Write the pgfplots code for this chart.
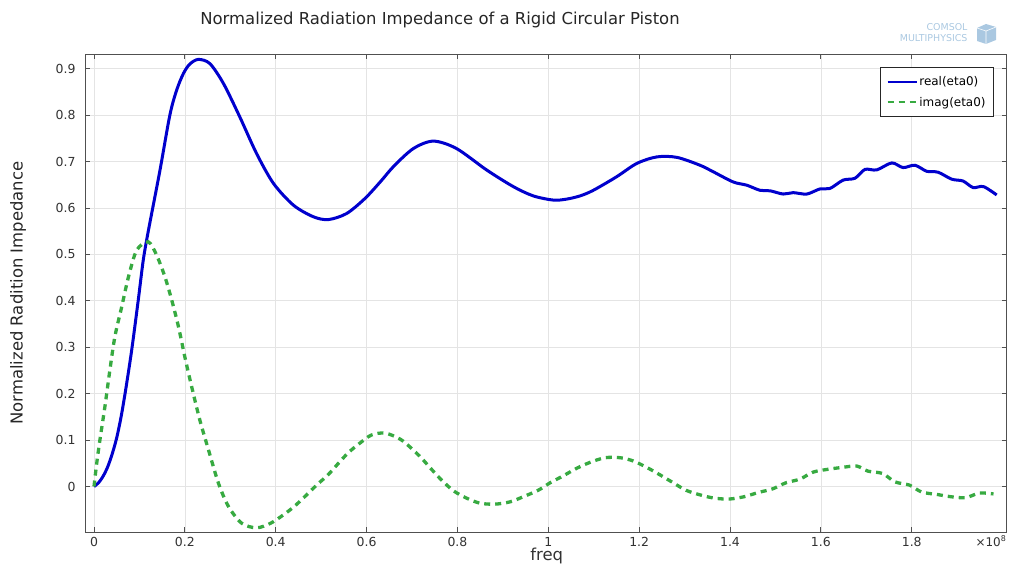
\documentclass[border=0pt]{standalone}
\usepackage{fontspec}
\setmainfont{DejaVu Sans}
\usepackage{pgfplots}
\pgfplotsset{compat=1.18}
\definecolor{realblue}{RGB}{0,0,205}
\definecolor{imaggreen}{RGB}{55,170,65}
\definecolor{gridgray}{RGB}{228,228,228}
\definecolor{axgray}{RGB}{80,80,80}
\definecolor{txtgray}{RGB}{50,50,50}
\definecolor{logoblue}{RGB}{170,200,225}
\begin{document}
\begin{tikzpicture}
\useasboundingbox (0bp,0bp) rectangle (1011bp,570bp);
\begin{axis}[
  at={(85bp,38bp)}, anchor=south west,
  width=921.5bp, height=477.7bp, scale only axis,
  xmin=-0.0198, xmax=2.0086, ymin=-0.098, ymax=0.931,
  xtick={0,0.2,0.4,0.6,0.8,1,1.2,1.4,1.6,1.8},
  xticklabels={0,0.2,0.4,0.6,0.8,1,1.2,1.4,1.6,1.8},
  ytick={0,0.1,0.2,0.3,0.4,0.5,0.6,0.7,0.8,0.9},
  yticklabels={0,0.1,0.2,0.3,0.4,0.5,0.6,0.7,0.8,0.9},
  tick align=inside, major tick length=5bp,
  tick style={axgray, line width=0.8bp},
  axis line style={axgray, line width=0.9bp},
  grid=major, major grid style={gridgray, line width=0.7bp},
  ticklabel style={font=\fontsize{12.5}{14}\selectfont, text=txtgray},
  yticklabel style={xshift=-6bp},
  xticklabel style={yshift=-2bp},
  xlabel={freq},
  xlabel style={at={(axis description cs:0.501,-0.050)}, anchor=center, font=\fontsize{16.5}{18}\selectfont, text=txtgray},
  ylabel={Normalized Radition Impedance},
  ylabel style={at={(axis description cs:-0.0727,0.5)}, anchor=center, rotate=0, font=\fontsize{16.5}{18}\selectfont, text=black!85},
  legend style={at={(0.9864,0.9734)}, anchor=north east, draw=black!85, line width=0.8bp,
    font=\fontsize{12}{14}\selectfont, inner xsep=6bp, inner ysep=7bp, row sep=6bp, fill=white},
  legend cell align=left,
  legend image code/.code={\draw[#1, line width=1.8bp] (0bp,0bp) -- (29bp,0bp);},
]
\addplot[realblue, line width=3bp, smooth, tension=0.5] coordinates {
(0,0) (0.01,0.008) (0.02,0.022) (0.03,0.042) (0.04,0.07) (0.05,0.105)
(0.06,0.152) (0.07,0.21) (0.083,0.294)
(0.0975,0.402) (0.1085,0.488) (0.1195,0.550) (0.145,0.680) (0.167,0.800)
(0.182,0.854) (0.197,0.890) (0.211,0.910) (0.2296,0.920) (0.255,0.911) (0.285,0.868)
(0.321,0.796) (0.358,0.717) (0.395,0.653) (0.439,0.606) (0.483,0.581)
(0.516,0.575) (0.556,0.588) (0.596,0.620) (0.630,0.656) (0.660,0.690)
(0.703,0.728) (0.747,0.744) (0.798,0.728) (0.864,0.682) (0.923,0.646)
(0.967,0.626) (1.011,0.617) (1.040,0.619) (1.070,0.626) (1.099,0.638)
(1.150,0.667) (1.195,0.696) (1.239,0.710) (1.283,0.709) (1.334,0.692)
(1.363,0.678) (1.407,0.656) (1.437,0.649) (1.466,0.638) (1.488,0.637)
(1.517,0.630) (1.539,0.633) (1.569,0.630) (1.598,0.641) (1.620,0.642)
(1.649,0.660) (1.675,0.664) (1.697,0.683) (1.723,0.682) (1.756,0.697)
(1.781,0.687) (1.807,0.692) (1.833,0.679) (1.858,0.677) (1.888,0.662)
(1.913,0.658) (1.935,0.644) (1.958,0.646) (1.987,0.628)
};
\addlegendentry{real(eta0)}
\addplot[imaggreen, line width=3.3bp, dash pattern=on 6bp off 5bp, smooth, tension=0.5] coordinates {
(0,0) (0.006,0.05) (0.013,0.10) (0.024,0.172) (0.035,0.251) (0.046,0.323)
(0.061,0.387) (0.076,0.452) (0.094,0.509) (0.1195,0.527) (0.138,0.498)
(0.156,0.452) (0.171,0.402) (0.186,0.344) (0.200,0.279) (0.215,0.215)
(0.233,0.143) (0.252,0.079) (0.274,0.007) (0.296,-0.043) (0.325,-0.079)
(0.358,-0.089) (0.389,-0.079) (0.417,-0.061) (0.442,-0.042) (0.468,-0.018)
(0.490,0.003) (0.516,0.026) (0.538,0.050) (0.560,0.073) (0.586,0.094)
(0.611,0.111) (0.641,0.115) (0.674,0.102) (0.699,0.082) (0.721,0.061)
(0.743,0.037) (0.765,0.014) (0.791,-0.009) (0.820,-0.025) (0.850,-0.036)
(0.883,-0.038) (0.916,-0.033) (0.945,-0.022) (0.978,-0.008) (1.004,0.008)
(1.033,0.023) (1.062,0.039) (1.092,0.052) (1.125,0.062) (1.158,0.062)
(1.187,0.055) (1.217,0.041) (1.246,0.025) (1.275,0.008) (1.303,-0.008)
(1.334,-0.018) (1.365,-0.025) (1.398,-0.027) (1.431,-0.022) (1.462,-0.013)
(1.494,-0.005) (1.523,0.008) (1.554,0.016) (1.583,0.031) (1.615,0.037)
(1.646,0.041) (1.679,0.044) (1.704,0.033) (1.736,0.028) (1.763,0.010)
(1.795,0.003) (1.822,-0.012) (1.855,-0.017) (1.886,-0.022) (1.919,-0.024)
(1.949,-0.014) (1.980,-0.016)
};
\addlegendentry{imag(eta0)}
\end{axis}
\node[font=\fontsize{16.5}{18}\selectfont, text=black!85] at (440bp,550bp) {Normalized Radiation Impedance of a Rigid Circular Piston};
\node[font=\fontsize{12}{13}\selectfont, text=txtgray] at (991bp,29bp) {×10\textsuperscript{8}};
\node[font=\fontsize{9.5}{10}\selectfont, text=logoblue, anchor=east] at (971bp,543bp) {COMSOL};
\node[font=\fontsize{9.5}{10}\selectfont, text=logoblue, anchor=east] at (971bp,532bp) {MULTIPHYSICS};
\fill[logoblue] (977bp,529bp) -- (986bp,526bp) -- (996bp,530bp) -- (996bp,543bp) -- (986bp,546bp) -- (977bp,542bp) -- cycle;
\draw[white, line width=0.6bp] (977bp,542bp) -- (986bp,539bp) -- (996bp,543bp) (986bp,539bp) -- (986bp,526bp);
\end{tikzpicture}
\end{document}
